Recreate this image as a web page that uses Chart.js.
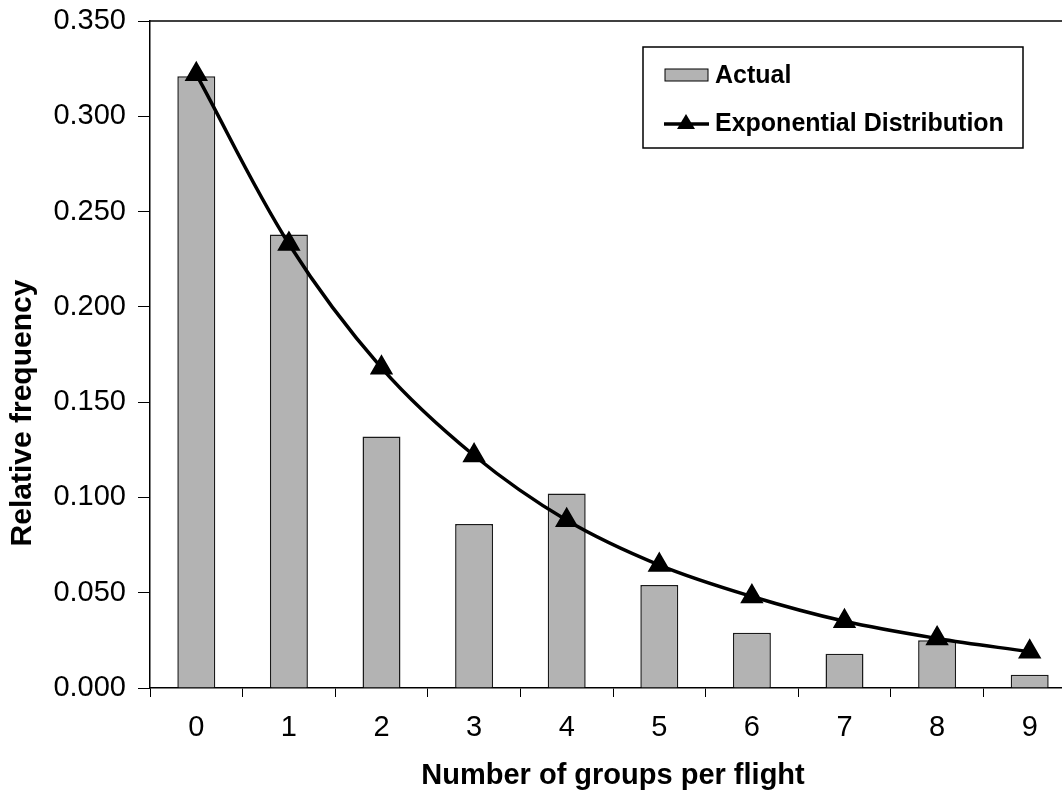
<!DOCTYPE html>
<html>
<head>
<meta charset="utf-8">
<script src="https://cdn.jsdelivr.net/npm/chart.js@4/dist/chart.umd.min.js"></script>
<style>
  html, body { margin: 0; padding: 0; background: #fff; overflow: hidden; }
  #wrap { width: 1090px; height: 793px; }
</style>
</head>
<body>
<div id="wrap"><canvas id="freqChart"></canvas></div>
<script>
// Groups per flight and the two series
const groups = ['0', '1', '2', '3', '4', '5', '6', '7', '8', '9'];
const actual = [0.321, 0.238, 0.132, 0.086, 0.102, 0.054, 0.029, 0.018, 0.025, 0.007];
const exponential = [0.322, 0.233, 0.168, 0.122, 0.088, 0.0645, 0.048, 0.035, 0.026, 0.019];
const yTicks = [0, 0.05, 0.1, 0.15, 0.2, 0.25, 0.3, 0.35];
const yTitle = 'Relative frequency';
const xTitle = 'Number of groups per flight';

const FONT = '"Liberation Sans", Arial, sans-serif';

// Draws the top frame line, the y title and the boxed legend
const framePlugin = {
    id: 'frame',
    afterDatasetsDraw(chart) {
        const ctx = chart.ctx;
        const area = chart.chartArea;
        ctx.save();
        ctx.strokeStyle = '#000';
        ctx.lineWidth = 1.5;
        ctx.beginPath();
        ctx.moveTo(area.left, area.top);
        ctx.lineTo(area.right, area.top);
        ctx.stroke();

        // y axis title
        ctx.save();
        ctx.translate(23, 413);
        ctx.rotate(-Math.PI / 2);
        ctx.font = 'bold 30px ' + FONT;
        ctx.textAlign = 'center';
        ctx.textBaseline = 'middle';
        ctx.fillStyle = '#000';
        ctx.fillText(yTitle, 0, 0);
        ctx.restore();

        // legend box
        const bx = 643, by = 47, bw = 380, bh = 101;
        ctx.fillStyle = '#fff';
        ctx.fillRect(bx, by, bw, bh);
        ctx.lineWidth = 1.5;
        ctx.strokeRect(bx, by, bw, bh);

        const lineDs = chart.data.datasets[0];
        const barDs = chart.data.datasets[1];
        ctx.font = 'bold 25px ' + FONT;
        ctx.textBaseline = 'middle';

        // Actual swatch
        ctx.fillStyle = barDs.backgroundColor;
        ctx.fillRect(665, 69, 43, 12);
        ctx.lineWidth = 1;
        ctx.strokeRect(665, 69, 43, 12);
        ctx.fillStyle = '#000';
        ctx.fillText(barDs.label, 715, 76);

        // Exponential line swatch
        ctx.lineWidth = 3.5;
        ctx.beginPath();
        ctx.moveTo(664, 124);
        ctx.lineTo(709, 124);
        ctx.stroke();
        ctx.beginPath();
        ctx.moveTo(686, 114);
        ctx.lineTo(695, 129);
        ctx.lineTo(677, 129);
        ctx.closePath();
        ctx.fill();
        ctx.fillText(lineDs.label, 715, 124);
        ctx.restore();
    }
};

const ctx = document.getElementById('freqChart').getContext('2d');
new Chart(ctx, {
    type: 'bar',
    data: {
        labels: groups,
        datasets: [{
            type: 'line',
            label: 'Exponential Distribution',
            data: exponential,
            borderColor: '#000',
            backgroundColor: '#000',
            borderWidth: 3.5,
            tension: 0.35,
            pointStyle: 'triangle',
            pointRadius: 10,
            pointBackgroundColor: '#000',
            pointBorderColor: '#000',
            order: 0
        }, {
            type: 'bar',
            label: 'Actual',
            data: actual,
            backgroundColor: '#b3b3b3',
            borderColor: '#1a1a1a',
            borderWidth: 1.5,
            barPercentage: 0.41,
            categoryPercentage: 1,
            order: 1
        }]
    },
    options: {
        responsive: true,
        maintainAspectRatio: false,
        animation: false,
        layout: { padding: { top: 21, right: 14, left: 0, bottom: 0 } },
        plugins: {
            legend: { display: false },
            tooltip: { enabled: false }
        },
        scales: {
            x: {
                offset: true,
                grid: {
                    offset: true,
                    drawOnChartArea: false,
                    tickLength: 9,
                    color: '#000',
                    lineWidth: 1
                },
                border: { color: '#000', width: 1.5 },
                ticks: {
                    color: '#000',
                    font: { family: FONT, size: 29 },
                    padding: 14,
                    maxRotation: 0
                },
                title: {
                    display: true,
                    text: xTitle,
                    color: '#000',
                    font: { family: FONT, size: 29, weight: 'bold' },
                    padding: { top: 2, bottom: 0 }
                },
                afterFit(scale) {
                    scale.height = 105;
                    scale.paddingLeft = 0;
                    scale.paddingRight = 0;
                }
            },
            y: {
                min: 0,
                max: 0.35,
                afterBuildTicks(scale) {
                    scale.ticks = yTicks.map(v => ({ value: v }));
                },
                grid: {
                    drawOnChartArea: false,
                    tickLength: 12,
                    color: '#000',
                    lineWidth: 1
                },
                border: { color: '#000', width: 1.5 },
                ticks: {
                    color: '#000',
                    font: { family: FONT, size: 29 },
                    padding: 12,
                    callback: v => v.toFixed(3)
                },
                afterFit(scale) {
                    scale.width = 150;
                    scale.paddingTop = 0;
                    scale.paddingBottom = 0;
                }
            }
        }
    },
    plugins: [framePlugin]
});
</script>
</body>
</html>
